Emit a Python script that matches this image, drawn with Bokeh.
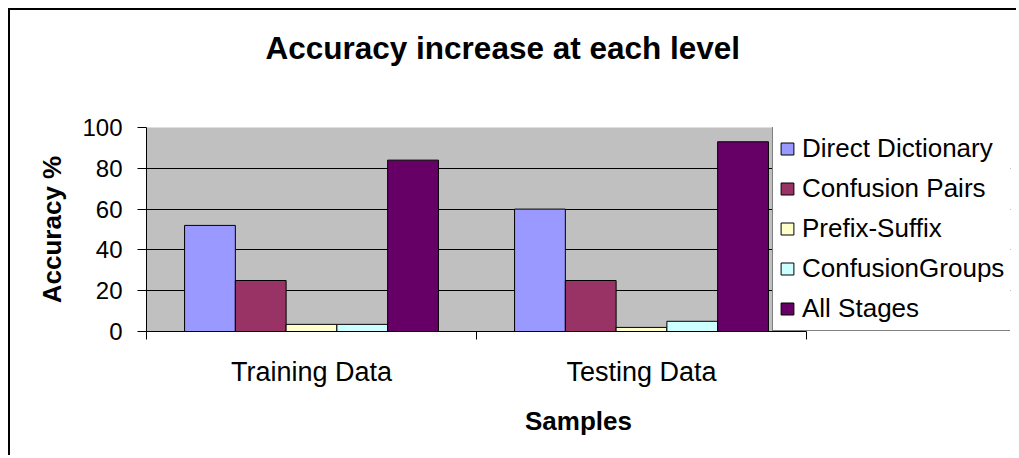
from bokeh.plotting import figure
from bokeh.models import (ColumnDataSource, FixedTicker, Range1d, Legend, LegendItem,
                          BoxAnnotation, LinearAxis, Title)
from bokeh.embed import file_html
from bokeh.resources import INLINE

categories = ["Training Data", "Testing Data"]
series = ["Direct Dictionary", "Confusion Pairs", "Prefix-Suffix", "ConfusionGroups", "All Stages"]
direct_dictionary = [52, 60]
confusion_pairs = [25, 25]
prefix_suffix = [3.5, 2]
confusion_groups = [3.5, 5]
all_stages = [84, 93]
colors = ["#9999FF", "#993366", "#FFFFCC", "#CCFFFF", "#660066"]
y_ticks = [0, 20, 40, 60, 80, 100]
title_text = "Accuracy increase at each level"

values = [direct_dictionary, confusion_pairs, prefix_suffix, confusion_groups, all_stages]

FONT = "Liberation Sans"

W, H = 1008, 447
ML, MR, MT, MB = 136, 8, 117, 126
frame_w = W - ML - MR          # 864 px
plot_area_w = 660              # grey plot area width in px
ncat = len(categories)
x_end = ncat * frame_w / plot_area_w

p = figure(width=W, height=H, output_backend="svg", toolbar_location=None,
           x_range=Range1d(0, x_end), y_range=Range1d(0, 100),
           min_border_left=ML, min_border_right=MR, min_border_top=MT, min_border_bottom=MB)
p.styles = {"margin-left": "8px", "margin-top": "8px",
            "border-left": "2px solid black", "border-top": "2px solid black"}

p.background_fill_color = "white"
p.border_fill_color = "white"
p.outline_line_color = None

area = BoxAnnotation(left=0, right=ncat, bottom=0, top=100, level="image",
                     fill_color="#C0C0C0", fill_alpha=1,
                     line_color="#808080", line_width=1)
p.add_layout(area)

n = len(series)
w = 1.0 / (n + 1.5)
items = []
for i, (name, vals, col) in enumerate(zip(series, values, colors)):
    xs = [g + 0.5 + (i - (n - 1) / 2) * w for g in range(ncat)]
    src = ColumnDataSource(dict(x=xs, top=vals))
    r = p.vbar(x="x", top="top", width=w, bottom=0, source=src,
               fill_color=col, line_color="black", line_width=1)
    items.append(LegendItem(label=name, renderers=[r]))

xa = p.below[0]
ya = p.left[0]

# invisible spacer between the frame and the title
spacer = LinearAxis(ticker=FixedTicker(ticks=[0.5]), axis_line_color=None,
                    major_tick_line_color=None, minor_tick_line_color=None,
                    major_tick_out=62, major_tick_in=0, minor_tick_out=0,
                    major_label_standoff=0, major_label_overrides={0.5: ""},
                    major_label_text_font_size="1px")
p.add_layout(spacer, "above")

p.title = Title(text=title_text, align="left", offset=119, vertical_align="bottom",
                standoff=0, text_font=FONT, text_font_size="31.5px",
                text_font_style="bold", text_color="black")

# y axis
ya.ticker = FixedTicker(ticks=y_ticks)
ya.axis_line_color = "black"
ya.major_tick_line_color = "black"
ya.major_tick_out = 9
ya.major_tick_in = 0
ya.minor_tick_line_color = None
ya.major_label_text_font = FONT
ya.major_label_text_font_size = "24px"
ya.major_label_text_color = "black"
ya.major_label_standoff = 15
ya.axis_label = "Accuracy %"
ya.axis_label_text_font = FONT
ya.axis_label_text_font_size = "26px"
ya.axis_label_text_font_style = "bold"
ya.axis_label_text_color = "black"
ya.axis_label_standoff = 12

# x axis
centers = [g + 0.5 for g in range(ncat)]
bounds = [float(g) for g in range(ncat + 1)]
xa.ticker = FixedTicker(ticks=centers, minor_ticks=bounds)
xa.major_label_overrides = {c: lab for c, lab in zip(centers, categories)}
xa.bounds = (0, ncat)
xa.axis_line_color = "black"
xa.major_tick_line_color = None
xa.major_tick_out = 0
xa.major_tick_in = 0
xa.minor_tick_line_color = "black"
xa.minor_tick_out = 8
xa.minor_tick_in = 0
xa.major_label_text_font = FONT
xa.major_label_text_font_size = "27px"
xa.major_label_text_color = "black"
xa.major_label_standoff = 17
xa.axis_label = "Samples"
xa.axis_label_text_font = FONT
xa.axis_label_text_font_size = "26px"
xa.axis_label_text_font_style = "bold"
xa.axis_label_text_color = "black"
xa.axis_label_standoff = 16

p.xgrid.grid_line_color = None
p.ygrid.ticker = FixedTicker(ticks=y_ticks)
p.ygrid.grid_line_color = "black"
p.ygrid.grid_line_width = 1

legend = Legend(items=items, location=(626, 0))
legend.background_fill_color = "white"
legend.background_fill_alpha = 1
legend.border_line_color = "black"
legend.border_line_width = 1
legend.label_text_font = FONT
legend.label_text_font_size = "26px"
legend.label_text_color = "black"
legend.glyph_width = 16
legend.glyph_height = 15
legend.label_standoff = 7
legend.label_height = 30
legend.spacing = 9
legend.padding = 6
legend.margin = 0
p.add_layout(legend, "center")

open("out.html", "w").write(file_html(p, INLINE))
